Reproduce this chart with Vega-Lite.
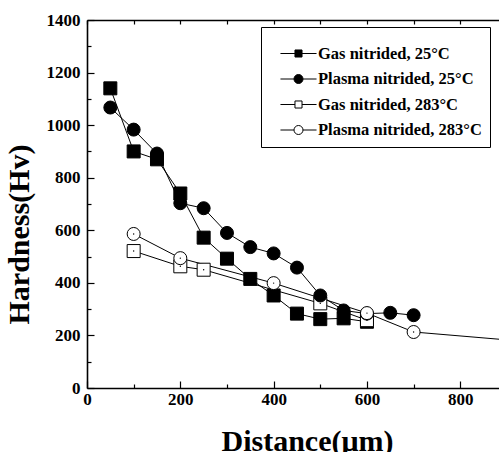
{
  "$schema": "https://vega.github.io/schema/vega-lite/v6.json",
  "width": 412,
  "height": 368,
  "autosize": "none",
  "padding": {"left": 87, "top": 20, "right": 0, "bottom": 64},
  "background": "white",
  "config": {"view": {"stroke": null}, "font": "Liberation Serif"},
  "data": {
    "values": [
      {"s": "Gas nitrided, 25°C", "d": 50, "h": 1140},
      {"s": "Gas nitrided, 25°C", "d": 100, "h": 900},
      {"s": "Gas nitrided, 25°C", "d": 150, "h": 870},
      {"s": "Gas nitrided, 25°C", "d": 200, "h": 740},
      {"s": "Gas nitrided, 25°C", "d": 250, "h": 572},
      {"s": "Gas nitrided, 25°C", "d": 300, "h": 492},
      {"s": "Gas nitrided, 25°C", "d": 350, "h": 415},
      {"s": "Gas nitrided, 25°C", "d": 400, "h": 352},
      {"s": "Gas nitrided, 25°C", "d": 450, "h": 283},
      {"s": "Gas nitrided, 25°C", "d": 500, "h": 262},
      {"s": "Gas nitrided, 25°C", "d": 550, "h": 265},
      {"s": "Gas nitrided, 25°C", "d": 600, "h": 252},
      {"s": "Plasma nitrided, 25°C", "d": 50, "h": 1067},
      {"s": "Plasma nitrided, 25°C", "d": 100, "h": 983},
      {"s": "Plasma nitrided, 25°C", "d": 150, "h": 892},
      {"s": "Plasma nitrided, 25°C", "d": 200, "h": 703},
      {"s": "Plasma nitrided, 25°C", "d": 250, "h": 684},
      {"s": "Plasma nitrided, 25°C", "d": 300, "h": 590},
      {"s": "Plasma nitrided, 25°C", "d": 350, "h": 536},
      {"s": "Plasma nitrided, 25°C", "d": 400, "h": 512},
      {"s": "Plasma nitrided, 25°C", "d": 450, "h": 458},
      {"s": "Plasma nitrided, 25°C", "d": 500, "h": 352},
      {"s": "Plasma nitrided, 25°C", "d": 550, "h": 295},
      {"s": "Plasma nitrided, 25°C", "d": 600, "h": 283},
      {"s": "Plasma nitrided, 25°C", "d": 650, "h": 286},
      {"s": "Plasma nitrided, 25°C", "d": 700, "h": 277},
      {"s": "Gas nitrided, 283°C", "d": 100, "h": 521},
      {"s": "Gas nitrided, 283°C", "d": 200, "h": 463},
      {"s": "Gas nitrided, 283°C", "d": 250, "h": 450},
      {"s": "Gas nitrided, 283°C", "d": 500, "h": 322},
      {"s": "Gas nitrided, 283°C", "d": 600, "h": 258},
      {"s": "Plasma nitrided, 283°C", "d": 100, "h": 586},
      {"s": "Plasma nitrided, 283°C", "d": 200, "h": 494},
      {"s": "Plasma nitrided, 283°C", "d": 400, "h": 399},
      {"s": "Plasma nitrided, 283°C", "d": 600, "h": 285},
      {"s": "Plasma nitrided, 283°C", "d": 700, "h": 213},
      {"s": "Plasma nitrided, 283°C", "d": 900, "h": 183}
    ]
  },
  "encoding": {
    "x": {
      "field": "d", "type": "quantitative",
      "scale": {"domain": [0, 883], "nice": false, "zero": false},
      "axis": {
        "orient": "bottom",
        "values": [0, 100, 200, 300, 400, 500, 600, 700, 800],
        "labelExpr": "datum.value % 200 === 0 ? datum.label : ''",
        "format": "d",
        "tickSize": {"condition": {"test": "datum.value % 200 === 0", "value": -7}, "value": -4},
        "tickColor": "black", "tickWidth": 1.2,
        "domainColor": "black", "domainWidth": 1.6,
        "grid": false,
        "labelFlush": false, "labelOverlap": false,
        "labelFont": "Liberation Serif", "labelFontSize": 17, "labelFontWeight": "bold", "labelColor": "black",
        "labelPadding": 10,
        "title": "Distance(μm)",
        "titleFont": "Liberation Serif", "titleFontSize": 30, "titleFontWeight": "bold", "titleColor": "black",
        "titleX": 220, "titlePadding": 16
      }
    },
    "y": {
      "field": "h", "type": "quantitative",
      "scale": {"domain": [0, 1400], "nice": false},
      "axis": {
        "values": [0, 100, 200, 300, 400, 500, 600, 700, 800, 900, 1000, 1100, 1200, 1300, 1400],
        "labelExpr": "datum.value % 200 === 0 ? datum.label : ''",
        "format": "d",
        "tickSize": {"condition": {"test": "datum.value % 200 === 0", "value": -7}, "value": -4},
        "tickColor": "black", "tickWidth": 1.2,
        "domainColor": "black", "domainWidth": 1.6,
        "grid": false,
        "labelFlush": false, "labelOverlap": false,
        "labelFont": "Liberation Serif", "labelFontSize": 17, "labelFontWeight": "bold", "labelColor": "black",
        "labelPadding": 14,
        "title": "Hardness(Hv)",
        "titleFont": "Liberation Serif", "titleFontSize": 30, "titleFontWeight": "bold", "titleColor": "black",
        "titleY": 214, "titlePadding": 12
      }
    }
  },
  "layer": [
    {
      "mark": {"type": "line", "color": "black", "strokeWidth": 1, "clip": true},
      "encoding": {"detail": {"field": "s", "type": "nominal"}}
    },
    {
      "transform": [{"filter": "false"}],
      "mark": {"type": "point", "filled": true, "size": 0, "strokeWidth": 1, "opacity": 1},
      "encoding": {
        "x": {"field": "d", "type": "quantitative", "axis": null},
        "shape": {
          "field": "s", "type": "nominal",
          "scale": {
            "domain": ["Gas nitrided, 25°C", "Plasma nitrided, 25°C", "Gas nitrided, 283°C", "Plasma nitrided, 283°C"],
            "range": [
              "M-1.64,0H-0.32M0.32,0H1.64M-0.32,-0.32H0.32V0.32H-0.32Z",
              "M-1.64,0H-0.41M0.41,0H1.64M-0.41,0A0.41,0.41,0,1,0,0.41,0A0.41,0.41,0,1,0,-0.41,0Z",
              "M-1.64,0H-0.32M0.32,0H1.64M-0.32,-0.32H0.32V0.32H-0.32Z",
              "M-1.64,0H-0.41M0.41,0H1.64M-0.41,0A0.41,0.41,0,1,0,0.41,0A0.41,0.41,0,1,0,-0.41,0Z"
            ]
          },
          "legend": {
            "orient": "none", "legendX": 174, "legendY": 7,
            "title": " ", "titleFontSize": 5, "titlePadding": 2, "direction": "vertical",
            "strokeColor": "black", "fillColor": "white", "padding": 8,
            "labelFont": "Liberation Serif", "labelFontSize": 16.5, "labelFontWeight": "bold", "labelColor": "black",
            "labelLimit": 300, "labelOffset": 8,
            "symbolSize": 484, "symbolOffset": 18, "rowPadding": 5.5,
            "symbolStrokeWidth": 1, "symbolOpacity": 1
          }
        },
        "fill": {
          "field": "s", "type": "nominal",
          "scale": {
            "domain": ["Gas nitrided, 25°C", "Plasma nitrided, 25°C", "Gas nitrided, 283°C", "Plasma nitrided, 283°C"],
            "range": ["black", "black", "white", "white"]
          },
          "legend": {
            "orient": "none", "legendX": 174, "legendY": 7,
            "title": " ", "titleFontSize": 5, "titlePadding": 2, "direction": "vertical",
            "strokeColor": "black", "fillColor": "white", "padding": 8,
            "labelFont": "Liberation Serif", "labelFontSize": 16.5, "labelFontWeight": "bold", "labelColor": "black",
            "labelLimit": 300, "labelOffset": 8,
            "symbolSize": 484, "symbolOffset": 18, "rowPadding": 5.5,
            "symbolStrokeWidth": 1, "symbolOpacity": 1
          }
        },
        "stroke": {
          "field": "s", "type": "nominal",
          "scale": {
            "domain": ["Gas nitrided, 25°C", "Plasma nitrided, 25°C", "Gas nitrided, 283°C", "Plasma nitrided, 283°C"],
            "range": ["black", "black", "black", "black"]
          },
          "legend": {
            "orient": "none", "legendX": 174, "legendY": 7,
            "title": " ", "titleFontSize": 5, "titlePadding": 2, "direction": "vertical",
            "strokeColor": "black", "fillColor": "white", "padding": 8,
            "labelFont": "Liberation Serif", "labelFontSize": 16.5, "labelFontWeight": "bold", "labelColor": "black",
            "labelLimit": 300, "labelOffset": 8,
            "symbolSize": 484, "symbolOffset": 18, "rowPadding": 5.5,
            "symbolStrokeWidth": 1, "symbolOpacity": 1
          }
        }
      }
    },
    {
      "transform": [{"filter": "indexof(datum.s, 'Gas') === 0"}],
      "mark": {"type": "point", "shape": "square", "filled": true, "size": 169, "stroke": "black", "strokeWidth": 1, "opacity": 1, "clip": true},
      "encoding": {
        "x": {
          "field": "d", "type": "quantitative",
          "axis": {
            "orient": "top",
            "values": [0, 100, 200, 300, 400, 500, 600, 700, 800],
            "labels": false, "title": null, "grid": false,
            "tickSize": -4, "tickColor": "black", "tickWidth": 1.2,
            "domainColor": "black", "domainWidth": 1.6
          }
        },
        "fill": {"field": "s", "type": "nominal", "legend": null}
      }
    },
    {
      "transform": [{"filter": "indexof(datum.s, 'Plasma') === 0"}],
      "mark": {"type": "point", "shape": "circle", "filled": true, "size": 169, "stroke": "black", "strokeWidth": 1, "opacity": 1, "clip": true},
      "encoding": {
        "x": {"field": "d", "type": "quantitative", "axis": null},
        "fill": {"field": "s", "type": "nominal", "legend": null}
      }
    },
    {
      "transform": [{"filter": "indexof(datum.s, '283') >= 0"}],
      "mark": {"type": "point", "filled": true, "size": 2, "color": "black", "opacity": 1, "clip": true},
      "encoding": {
        "x": {"field": "d", "type": "quantitative", "axis": null}
      }
    }
  ],
  "resolve": {"axis": {"x": "independent"}}
}
